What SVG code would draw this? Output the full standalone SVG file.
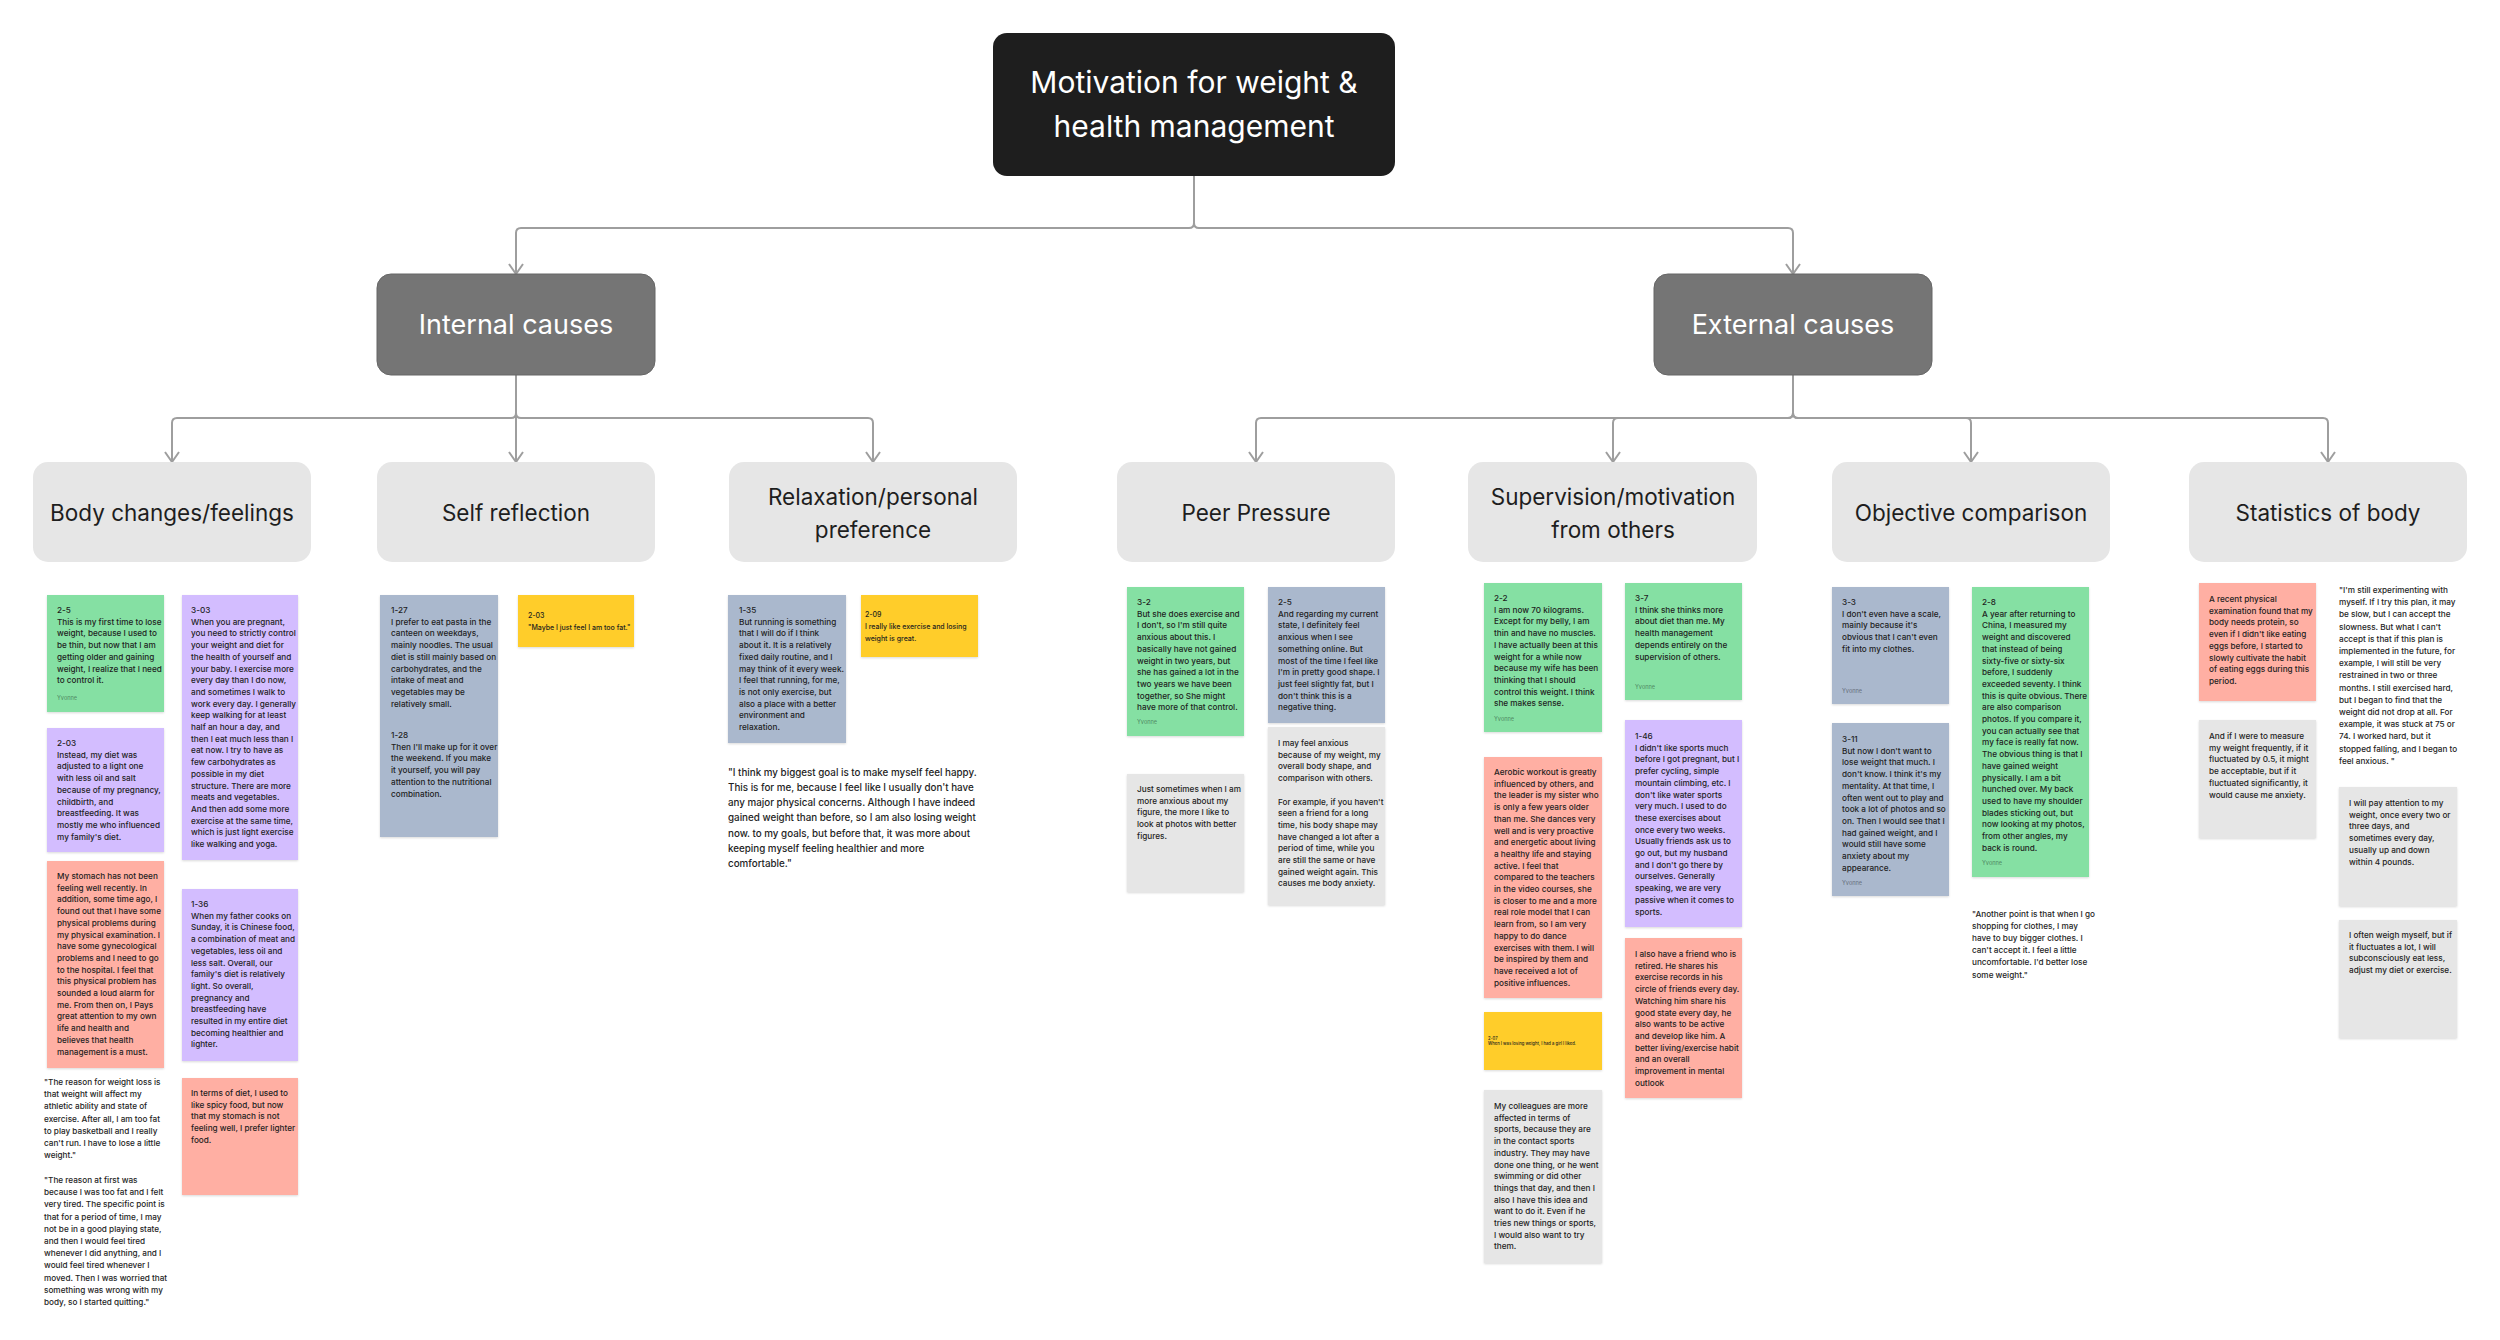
<svg xmlns="http://www.w3.org/2000/svg" width="2500" height="1340" viewBox="0 0 2500 1340">
<defs>
<style>
text{font-family:Inter,"Liberation Sans",sans-serif}
.root{fill:#1e1e1e}
.cat{fill:#757575;stroke:#666;stroke-width:1}
.sub{fill:#e6e6e6}
.tw{fill:#fff;font-size:30px;text-anchor:middle}
.tc{fill:#fff;font-size:27px;text-anchor:middle}
.ts{fill:#1e1e1e;font-size:22.5px;text-anchor:middle}
.con path{fill:none;stroke:#9e9e9e;stroke-width:2;marker-end:url(#ah)}
.note rect{filter:url(#sh)}
.g{fill:#85E0A3}.p{fill:#D3BDFF}.r{fill:#FFAFA3}.s{fill:#AAB8CD}.k{fill:#E6E6E6}.y{fill:#FFCD29}
.nt{font-size:8.2px;font-weight:500;fill:#1e1e1e}
.sm{font-size:7px;font-weight:500;fill:#1e1e1e}
.tiny{font-size:4.2px;font-weight:500;fill:#1e1e1e}
.qt{font-size:8.2px;font-weight:500;fill:#1e1e1e}
.qb{font-size:9.8px;font-weight:500;fill:#1e1e1e}
.yv{font-size:5.5px;font-weight:500;fill:#000;fill-opacity:0.4}
</style>
<filter id="sh" x="-10%" y="-10%" width="120%" height="130%"><feDropShadow dx="0" dy="1" stdDeviation="1.2" flood-color="#000" flood-opacity="0.15"/></filter>
<marker id="ah" viewBox="-1 -8 12 16" refX="10" refY="0" markerWidth="12" markerHeight="16" markerUnits="userSpaceOnUse" orient="auto"><path d="M0,-7 L10,0 L0,7" fill="none" stroke="#9e9e9e" stroke-width="2"/></marker>
</defs>
<rect width="2500" height="1340" fill="#fff"/>

<g id="connectors" class="con">
<path d="M1194,176 V223 Q1194,228 1189,228 H521 Q516,228 516,233 V274"/>
<path d="M1194,176 V223 Q1194,228 1199,228 H1788 Q1793,228 1793,233 V274"/>
<path d="M516,375 V413 Q516,418 511,418 H177 Q172,418 172,423 V462"/>
<path d="M516,375 V462"/>
<path d="M516,375 V413 Q516,418 521,418 H868 Q873,418 873,423 V462"/>
<path d="M1793,375 V413 Q1793,418 1788,418 H1261 Q1256,418 1256,423 V462"/>
<path d="M1793,375 V413 Q1793,418 1788,418 H1618 Q1613,418 1613,423 V462"/>
<path d="M1793,375 V413 Q1793,418 1798,418 H1966 Q1971,418 1971,423 V462"/>
<path d="M1793,375 V413 Q1793,418 1798,418 H2323 Q2328,418 2328,423 V462"/>
</g>

<g id="root"><rect class="root" x="993" y="33" width="402" height="143" rx="14"/>
<text class="tw" x="1194" y="93">Motivation for weight &amp;</text>
<text class="tw" x="1194" y="137">health management</text></g>

<g id="internal"><rect class="cat" x="377" y="274" width="278" height="101" rx="14"/><text class="tc" x="516" y="334">Internal causes</text></g>
<g id="external"><rect class="cat" x="1654" y="274" width="278" height="101" rx="14"/><text class="tc" x="1793" y="334">External causes</text></g>

<g id="body-changes"><rect class="sub" x="33" y="462" width="278" height="100" rx="15"/><text class="ts" x="172" y="521">Body changes/feelings</text></g>
<g id="self-reflection"><rect class="sub" x="377" y="462" width="278" height="100" rx="15"/><text class="ts" x="516" y="521">Self reflection</text></g>
<g id="relaxation"><rect class="sub" x="729" y="462" width="288" height="100" rx="15"/><text class="ts" x="873" y="505">Relaxation/personal</text><text class="ts" x="873" y="538">preference</text></g>
<g id="peer-pressure"><rect class="sub" x="1117" y="462" width="278" height="100" rx="15"/><text class="ts" x="1256" y="521">Peer Pressure</text></g>
<g id="supervision"><rect class="sub" x="1468" y="462" width="289" height="100" rx="15"/><text class="ts" x="1613" y="505">Supervision/motivation</text><text class="ts" x="1613" y="538">from others</text></g>
<g id="objective"><rect class="sub" x="1832" y="462" width="278" height="100" rx="15"/><text class="ts" x="1971" y="521">Objective comparison</text></g>
<g id="statistics"><rect class="sub" x="2189" y="462" width="278" height="100" rx="15"/><text class="ts" x="2328" y="521">Statistics of body</text></g>

<!-- Body changes column -->
<g id="n1" class="note"><rect class="g" x="47" y="595" width="117" height="117"/>
<text class="nt" x="57" y="613">2-5<tspan x="57" dy="11.7">This is my first time to lose</tspan><tspan x="57" dy="11.7">weight, because I used to</tspan><tspan x="57" dy="11.7">be thin, but now that I am</tspan><tspan x="57" dy="11.7">getting older and gaining</tspan><tspan x="57" dy="11.7">weight, I realize that I need</tspan><tspan x="57" dy="11.7">to control it.</tspan></text>
<text class="yv" x="57" y="700">Yvonne</text></g>

<g id="n2" class="note"><rect class="p" x="182" y="595" width="116" height="265"/>
<text class="nt" x="191" y="613">3-03<tspan x="191" dy="11.7">When you are pregnant,</tspan><tspan x="191" dy="11.7">you need to strictly control</tspan><tspan x="191" dy="11.7">your weight and diet for</tspan><tspan x="191" dy="11.7">the health of yourself and</tspan><tspan x="191" dy="11.7">your baby. I exercise more</tspan><tspan x="191" dy="11.7">every day than I do now,</tspan><tspan x="191" dy="11.7">and sometimes I walk to</tspan><tspan x="191" dy="11.7">work every day. I generally</tspan><tspan x="191" dy="11.7">keep walking for at least</tspan><tspan x="191" dy="11.7">half an hour a day, and</tspan><tspan x="191" dy="11.7">then I eat much less than I</tspan><tspan x="191" dy="11.7">eat now. I try to have as</tspan><tspan x="191" dy="11.7">few carbohydrates as</tspan><tspan x="191" dy="11.7">possible in my diet</tspan><tspan x="191" dy="11.7">structure. There are more</tspan><tspan x="191" dy="11.7">meats and vegetables.</tspan><tspan x="191" dy="11.7">And then add some more</tspan><tspan x="191" dy="11.7">exercise at the same time,</tspan><tspan x="191" dy="11.7">which is just light exercise</tspan><tspan x="191" dy="11.7">like walking and yoga.</tspan></text></g>

<g id="n3" class="note"><rect class="p" x="47" y="728" width="117" height="124"/>
<text class="nt" x="57" y="746">2-03<tspan x="57" dy="11.7">Instead, my diet was</tspan><tspan x="57" dy="11.7">adjusted to a light one</tspan><tspan x="57" dy="11.7">with less oil and salt</tspan><tspan x="57" dy="11.7">because of my pregnancy,</tspan><tspan x="57" dy="11.7">childbirth, and</tspan><tspan x="57" dy="11.7">breastfeeding. It was</tspan><tspan x="57" dy="11.7">mostly me who influenced</tspan><tspan x="57" dy="11.7">my family's diet.</tspan></text></g>

<g id="n4" class="note"><rect class="r" x="47" y="861" width="117" height="207"/>
<text class="nt" x="57" y="879">My stomach has not been<tspan x="57" dy="11.7">feeling well recently. In</tspan><tspan x="57" dy="11.7">addition, some time ago, I</tspan><tspan x="57" dy="11.7">found out that I have some</tspan><tspan x="57" dy="11.7">physical problems during</tspan><tspan x="57" dy="11.7">my physical examination. I</tspan><tspan x="57" dy="11.7">have some gynecological</tspan><tspan x="57" dy="11.7">problems and I need to go</tspan><tspan x="57" dy="11.7">to the hospital. I feel that</tspan><tspan x="57" dy="11.7">this physical problem has</tspan><tspan x="57" dy="11.7">sounded a loud alarm for</tspan><tspan x="57" dy="11.7">me. From then on, I Pays</tspan><tspan x="57" dy="11.7">great attention to my own</tspan><tspan x="57" dy="11.7">life and health and</tspan><tspan x="57" dy="11.7">believes that health</tspan><tspan x="57" dy="11.7">management is a must.</tspan></text></g>

<g id="n5" class="note"><rect class="p" x="182" y="889" width="116" height="172"/>
<text class="nt" x="191" y="907">1-36<tspan x="191" dy="11.7">When my father cooks on</tspan><tspan x="191" dy="11.7">Sunday, it is Chinese food,</tspan><tspan x="191" dy="11.7">a combination of meat and</tspan><tspan x="191" dy="11.7">vegetables, less oil and</tspan><tspan x="191" dy="11.7">less salt. Overall, our</tspan><tspan x="191" dy="11.7">family's diet is relatively</tspan><tspan x="191" dy="11.7">light. So overall,</tspan><tspan x="191" dy="11.7">pregnancy and</tspan><tspan x="191" dy="11.7">breastfeeding have</tspan><tspan x="191" dy="11.7">resulted in my entire diet</tspan><tspan x="191" dy="11.7">becoming healthier and</tspan><tspan x="191" dy="11.7">lighter.</tspan></text></g>

<g id="n6" class="note"><rect class="r" x="182" y="1078" width="116" height="117"/>
<text class="nt" x="191" y="1096">In terms of diet, I used to<tspan x="191" dy="11.7">like spicy food, but now</tspan><tspan x="191" dy="11.7">that my stomach is not</tspan><tspan x="191" dy="11.7">feeling well, I prefer lighter</tspan><tspan x="191" dy="11.7">food.</tspan></text></g>

<g id="q1"><text class="qt" x="44" y="1085">"The reason for weight loss is<tspan x="44" dy="12.2">that weight will affect my</tspan><tspan x="44" dy="12.2">athletic ability and state of</tspan><tspan x="44" dy="12.2">exercise. After all, I am too fat</tspan><tspan x="44" dy="12.2">to play basketball and I really</tspan><tspan x="44" dy="12.2">can't run. I have to lose a little</tspan><tspan x="44" dy="12.2">weight."</tspan></text></g>

<g id="q2"><text class="qt" x="44" y="1183">"The reason at first was<tspan x="44" dy="12.2">because I was too fat and I felt</tspan><tspan x="44" dy="12.2">very tired. The specific point is</tspan><tspan x="44" dy="12.2">that for a period of time, I may</tspan><tspan x="44" dy="12.2">not be in a good playing state,</tspan><tspan x="44" dy="12.2">and then I would feel tired</tspan><tspan x="44" dy="12.2">whenever I did anything, and I</tspan><tspan x="44" dy="12.2">would feel tired whenever I</tspan><tspan x="44" dy="12.2">moved. Then I was worried that</tspan><tspan x="44" dy="12.2">something was wrong with my</tspan><tspan x="44" dy="12.2">body, so I started quitting."</tspan></text></g>

<!-- Self reflection -->
<g id="n7" class="note"><rect class="s" x="380" y="595" width="118" height="242"/>
<text class="nt" x="391" y="613">1-27<tspan x="391" dy="11.7">I prefer to eat pasta in the</tspan><tspan x="391" dy="11.7">canteen on weekdays,</tspan><tspan x="391" dy="11.7">mainly noodles. The usual</tspan><tspan x="391" dy="11.7">diet is still mainly based on</tspan><tspan x="391" dy="11.7">carbohydrates, and the</tspan><tspan x="391" dy="11.7">intake of meat and</tspan><tspan x="391" dy="11.7">vegetables may be</tspan><tspan x="391" dy="11.7">relatively small.</tspan></text>
<text class="nt" x="391" y="738">1-28<tspan x="391" dy="11.7">Then I'll make up for it over</tspan><tspan x="391" dy="11.7">the weekend. If you make</tspan><tspan x="391" dy="11.7">it yourself, you will pay</tspan><tspan x="391" dy="11.7">attention to the nutritional</tspan><tspan x="391" dy="11.7">combination.</tspan></text></g>

<g id="n8" class="note"><rect class="y" x="518" y="595" width="116" height="52"/>
<text class="sm" x="528" y="617.5">2-03<tspan x="528" dy="12">"Maybe I just feel I am too fat."</tspan></text></g>

<!-- Relaxation -->
<g id="n9" class="note"><rect class="s" x="728" y="595" width="118" height="148"/>
<text class="nt" x="739" y="613">1-35<tspan x="739" dy="11.7">But running is something</tspan><tspan x="739" dy="11.7">that I will do if I think</tspan><tspan x="739" dy="11.7">about it. It is a relatively</tspan><tspan x="739" dy="11.7">fixed daily routine, and I</tspan><tspan x="739" dy="11.7">may think of it every week.</tspan><tspan x="739" dy="11.7">I feel that running, for me,</tspan><tspan x="739" dy="11.7">is not only exercise, but</tspan><tspan x="739" dy="11.7">also a place with a better</tspan><tspan x="739" dy="11.7">environment and</tspan><tspan x="739" dy="11.7">relaxation.</tspan></text></g>

<g id="n10" class="note"><rect class="y" x="861" y="595" width="117" height="62"/>
<text class="sm" x="865" y="616.5">2-09<tspan x="865" dy="12">I really like exercise and losing</tspan><tspan x="865" dy="12">weight is great.</tspan></text></g>

<g id="q3"><text class="qb" x="728" y="775.5">"I think my biggest goal is to make myself feel happy.<tspan x="728" dy="15.3">This is for me, because I feel like I usually don't have</tspan><tspan x="728" dy="15.3">any major physical concerns. Although I have indeed</tspan><tspan x="728" dy="15.3">gained weight than before, so I am also losing weight</tspan><tspan x="728" dy="15.3">now. to my goals, but before that, it was more about</tspan><tspan x="728" dy="15.3">keeping myself feeling healthier and more</tspan><tspan x="728" dy="15.3">comfortable."</tspan></text></g>

<!-- Peer pressure -->
<g id="n11" class="note"><rect class="g" x="1127" y="587" width="117" height="149"/>
<text class="nt" x="1137" y="605">3-2<tspan x="1137" dy="11.7">But she does exercise and</tspan><tspan x="1137" dy="11.7">I don't, so I'm still quite</tspan><tspan x="1137" dy="11.7">anxious about this. I</tspan><tspan x="1137" dy="11.7">basically have not gained</tspan><tspan x="1137" dy="11.7">weight in two years, but</tspan><tspan x="1137" dy="11.7">she has gained a lot in the</tspan><tspan x="1137" dy="11.7">two years we have been</tspan><tspan x="1137" dy="11.7">together, so She might</tspan><tspan x="1137" dy="11.7">have more of that control.</tspan></text>
<text class="yv" x="1137" y="724">Yvonne</text></g>

<g id="n12" class="note"><rect class="s" x="1268" y="587" width="117" height="136"/>
<text class="nt" x="1278" y="605">2-5<tspan x="1278" dy="11.7">And regarding my current</tspan><tspan x="1278" dy="11.7">state, I definitely feel</tspan><tspan x="1278" dy="11.7">anxious when I see</tspan><tspan x="1278" dy="11.7">something online. But</tspan><tspan x="1278" dy="11.7">most of the time I feel like</tspan><tspan x="1278" dy="11.7">I'm in pretty good shape. I</tspan><tspan x="1278" dy="11.7">just feel slightly fat, but I</tspan><tspan x="1278" dy="11.7">don't think this is a</tspan><tspan x="1278" dy="11.7">negative thing.</tspan></text></g>

<g id="n13" class="note"><rect class="k" x="1127" y="774" width="117" height="118"/>
<text class="nt" x="1137" y="792">Just sometimes when I am<tspan x="1137" dy="11.7">more anxious about my</tspan><tspan x="1137" dy="11.7">figure, the more I like to</tspan><tspan x="1137" dy="11.7">look at photos with better</tspan><tspan x="1137" dy="11.7">figures.</tspan></text></g>

<g id="n14" class="note"><rect class="k" x="1268" y="727" width="117" height="178"/>
<text class="nt" x="1278" y="746">I may feel anxious<tspan x="1278" dy="11.7">because of my weight, my</tspan><tspan x="1278" dy="11.7">overall body shape, and</tspan><tspan x="1278" dy="11.7">comparison with others.</tspan><tspan x="1278" dy="23.4">For example, if you haven't</tspan><tspan x="1278" dy="11.7">seen a friend for a long</tspan><tspan x="1278" dy="11.7">time, his body shape may</tspan><tspan x="1278" dy="11.7">have changed a lot after a</tspan><tspan x="1278" dy="11.7">period of time, while you</tspan><tspan x="1278" dy="11.7">are still the same or have</tspan><tspan x="1278" dy="11.7">gained weight again. This</tspan><tspan x="1278" dy="11.7">causes me body anxiety.</tspan></text></g>

<!-- Supervision -->
<g id="n15" class="note"><rect class="g" x="1484" y="583" width="118" height="149"/>
<text class="nt" x="1494" y="601">2-2<tspan x="1494" dy="11.7">I am now 70 kilograms.</tspan><tspan x="1494" dy="11.7">Except for my belly, I am</tspan><tspan x="1494" dy="11.7">thin and have no muscles.</tspan><tspan x="1494" dy="11.7">I have actually been at this</tspan><tspan x="1494" dy="11.7">weight for a while now</tspan><tspan x="1494" dy="11.7">because my wife has been</tspan><tspan x="1494" dy="11.7">thinking that I should</tspan><tspan x="1494" dy="11.7">control this weight. I think</tspan><tspan x="1494" dy="11.7">she makes sense.</tspan></text>
<text class="yv" x="1494" y="721">Yvonne</text></g>

<g id="n16" class="note"><rect class="g" x="1625" y="583" width="117" height="117"/>
<text class="nt" x="1635" y="601">3-7<tspan x="1635" dy="11.7">I think she thinks more</tspan><tspan x="1635" dy="11.7">about diet than me. My</tspan><tspan x="1635" dy="11.7">health management</tspan><tspan x="1635" dy="11.7">depends entirely on the</tspan><tspan x="1635" dy="11.7">supervision of others.</tspan></text>
<text class="yv" x="1635" y="689">Yvonne</text></g>

<g id="n17" class="note"><rect class="r" x="1484" y="757" width="118" height="241"/>
<text class="nt" x="1494" y="775">Aerobic workout is greatly<tspan x="1494" dy="11.7">influenced by others, and</tspan><tspan x="1494" dy="11.7">the leader is my sister who</tspan><tspan x="1494" dy="11.7">is only a few years older</tspan><tspan x="1494" dy="11.7">than me. She dances very</tspan><tspan x="1494" dy="11.7">well and is very proactive</tspan><tspan x="1494" dy="11.7">and energetic about living</tspan><tspan x="1494" dy="11.7">a healthy life and staying</tspan><tspan x="1494" dy="11.7">active. I feel that</tspan><tspan x="1494" dy="11.7">compared to the teachers</tspan><tspan x="1494" dy="11.7">in the video courses, she</tspan><tspan x="1494" dy="11.7">is closer to me and a more</tspan><tspan x="1494" dy="11.7">real role model that I can</tspan><tspan x="1494" dy="11.7">learn from, so I am very</tspan><tspan x="1494" dy="11.7">happy to do dance</tspan><tspan x="1494" dy="11.7">exercises with them. I will</tspan><tspan x="1494" dy="11.7">be inspired by them and</tspan><tspan x="1494" dy="11.7">have received a lot of</tspan><tspan x="1494" dy="11.7">positive influences.</tspan></text></g>

<g id="n18" class="note"><rect class="p" x="1625" y="720" width="117" height="207"/>
<text class="nt" x="1635" y="739">1-46<tspan x="1635" dy="11.7">I didn't like sports much</tspan><tspan x="1635" dy="11.7">before I got pregnant, but I</tspan><tspan x="1635" dy="11.7">prefer cycling, simple</tspan><tspan x="1635" dy="11.7">mountain climbing, etc. I</tspan><tspan x="1635" dy="11.7">don't like water sports</tspan><tspan x="1635" dy="11.7">very much. I used to do</tspan><tspan x="1635" dy="11.7">these exercises about</tspan><tspan x="1635" dy="11.7">once every two weeks.</tspan><tspan x="1635" dy="11.7">Usually friends ask us to</tspan><tspan x="1635" dy="11.7">go out, but my husband</tspan><tspan x="1635" dy="11.7">and I don't go there by</tspan><tspan x="1635" dy="11.7">ourselves. Generally</tspan><tspan x="1635" dy="11.7">speaking, we are very</tspan><tspan x="1635" dy="11.7">passive when it comes to</tspan><tspan x="1635" dy="11.7">sports.</tspan></text></g>

<g id="n19" class="note"><rect class="r" x="1625" y="938" width="117" height="160"/>
<text class="nt" x="1635" y="957">I also have a friend who is<tspan x="1635" dy="11.7">retired. He shares his</tspan><tspan x="1635" dy="11.7">exercise records in his</tspan><tspan x="1635" dy="11.7">circle of friends every day.</tspan><tspan x="1635" dy="11.7">Watching him share his</tspan><tspan x="1635" dy="11.7">good state every day, he</tspan><tspan x="1635" dy="11.7">also wants to be active</tspan><tspan x="1635" dy="11.7">and develop like him. A</tspan><tspan x="1635" dy="11.7">better living/exercise habit</tspan><tspan x="1635" dy="11.7">and an overall</tspan><tspan x="1635" dy="11.7">improvement in mental</tspan><tspan x="1635" dy="11.7">outlook</tspan></text></g>

<g id="n20" class="note"><rect class="y" x="1484" y="1012" width="118" height="58"/>
<text class="tiny" x="1488" y="1039.5">2-07<tspan x="1488" dy="5.6">When I was losing weight, I had a girl I liked.</tspan></text></g>

<g id="n21" class="note"><rect class="k" x="1484" y="1090" width="118" height="173"/>
<text class="nt" x="1494" y="1109">My colleagues are more<tspan x="1494" dy="11.7">affected in terms of</tspan><tspan x="1494" dy="11.7">sports, because they are</tspan><tspan x="1494" dy="11.7">in the contact sports</tspan><tspan x="1494" dy="11.7">industry. They may have</tspan><tspan x="1494" dy="11.7">done one thing, or he went</tspan><tspan x="1494" dy="11.7">swimming or did other</tspan><tspan x="1494" dy="11.7">things that day, and then I</tspan><tspan x="1494" dy="11.7">also I have this idea and</tspan><tspan x="1494" dy="11.7">want to do it. Even if he</tspan><tspan x="1494" dy="11.7">tries new things or sports,</tspan><tspan x="1494" dy="11.7">I would also want to try</tspan><tspan x="1494" dy="11.7">them.</tspan></text></g>

<!-- Objective comparison -->
<g id="n22" class="note"><rect class="s" x="1832" y="587" width="117" height="117"/>
<text class="nt" x="1842" y="605">3-3<tspan x="1842" dy="11.7">I don't even have a scale,</tspan><tspan x="1842" dy="11.7">mainly because it's</tspan><tspan x="1842" dy="11.7">obvious that I can't even</tspan><tspan x="1842" dy="11.7">fit into my clothes.</tspan></text>
<text class="yv" x="1842" y="693">Yvonne</text></g>

<g id="n23" class="note"><rect class="s" x="1832" y="723" width="117" height="173"/>
<text class="nt" x="1842" y="742">3-11<tspan x="1842" dy="11.7">But now I don't want to</tspan><tspan x="1842" dy="11.7">lose weight that much. I</tspan><tspan x="1842" dy="11.7">don't know. I think it's my</tspan><tspan x="1842" dy="11.7">mentality. At that time, I</tspan><tspan x="1842" dy="11.7">often went out to play and</tspan><tspan x="1842" dy="11.7">took a lot of photos and so</tspan><tspan x="1842" dy="11.7">on. Then I would see that I</tspan><tspan x="1842" dy="11.7">had gained weight, and I</tspan><tspan x="1842" dy="11.7">would still have some</tspan><tspan x="1842" dy="11.7">anxiety about my</tspan><tspan x="1842" dy="11.7">appearance.</tspan></text>
<text class="yv" x="1842" y="885">Yvonne</text></g>

<g id="n24" class="note"><rect class="g" x="1972" y="587" width="117" height="290"/>
<text class="nt" x="1982" y="605">2-8<tspan x="1982" dy="11.7">A year after returning to</tspan><tspan x="1982" dy="11.7">China, I measured my</tspan><tspan x="1982" dy="11.7">weight and discovered</tspan><tspan x="1982" dy="11.7">that instead of being</tspan><tspan x="1982" dy="11.7">sixty-five or sixty-six</tspan><tspan x="1982" dy="11.7">before, I suddenly</tspan><tspan x="1982" dy="11.7">exceeded seventy. I think</tspan><tspan x="1982" dy="11.7">this is quite obvious. There</tspan><tspan x="1982" dy="11.7">are also comparison</tspan><tspan x="1982" dy="11.7">photos. If you compare it,</tspan><tspan x="1982" dy="11.7">you can actually see that</tspan><tspan x="1982" dy="11.7">my face is really fat now.</tspan><tspan x="1982" dy="11.7">The obvious thing is that I</tspan><tspan x="1982" dy="11.7">have gained weight</tspan><tspan x="1982" dy="11.7">physically. I am a bit</tspan><tspan x="1982" dy="11.7">hunched over. My back</tspan><tspan x="1982" dy="11.7">used to have my shoulder</tspan><tspan x="1982" dy="11.7">blades sticking out, but</tspan><tspan x="1982" dy="11.7">now looking at my photos,</tspan><tspan x="1982" dy="11.7">from other angles, my</tspan><tspan x="1982" dy="11.7">back is round.</tspan></text>
<text class="yv" x="1982" y="865">Yvonne</text></g>

<g id="q4"><text class="qt" x="1972" y="917">"Another point is that when I go<tspan x="1972" dy="12.1">shopping for clothes, I may</tspan><tspan x="1972" dy="12.1">have to buy bigger clothes. I</tspan><tspan x="1972" dy="12.1">can't accept it. I feel a little</tspan><tspan x="1972" dy="12.1">uncomfortable. I'd better lose</tspan><tspan x="1972" dy="12.1">some weight."</tspan></text></g>

<!-- Statistics -->
<g id="n25" class="note"><rect class="r" x="2199" y="583" width="117" height="118"/>
<text class="nt" x="2209" y="602">A recent physical<tspan x="2209" dy="11.7">examination found that my</tspan><tspan x="2209" dy="11.7">body needs protein, so</tspan><tspan x="2209" dy="11.7">even if I didn't like eating</tspan><tspan x="2209" dy="11.7">eggs before, I started to</tspan><tspan x="2209" dy="11.7">slowly cultivate the habit</tspan><tspan x="2209" dy="11.7">of eating eggs during this</tspan><tspan x="2209" dy="11.7">period.</tspan></text></g>

<g id="n26" class="note"><rect class="k" x="2199" y="720" width="117" height="118"/>
<text class="nt" x="2209" y="739">And if I were to measure<tspan x="2209" dy="11.7">my weight frequently, if it</tspan><tspan x="2209" dy="11.7">fluctuated by 0.5, it might</tspan><tspan x="2209" dy="11.7">be acceptable, but if it</tspan><tspan x="2209" dy="11.7">fluctuated significantly, it</tspan><tspan x="2209" dy="11.7">would cause me anxiety.</tspan></text></g>

<g id="q5"><text class="qt" x="2339" y="593">"I'm still experimenting with<tspan x="2339" dy="12.2">myself. If I try this plan, it may</tspan><tspan x="2339" dy="12.2">be slow, but I can accept the</tspan><tspan x="2339" dy="12.2">slowness. But what I can't</tspan><tspan x="2339" dy="12.2">accept is that if this plan is</tspan><tspan x="2339" dy="12.2">implemented in the future, for</tspan><tspan x="2339" dy="12.2">example, I will still be very</tspan><tspan x="2339" dy="12.2">restrained in two or three</tspan><tspan x="2339" dy="12.2">months. I still exercised hard,</tspan><tspan x="2339" dy="12.2">but I began to find that the</tspan><tspan x="2339" dy="12.2">weight did not drop at all. For</tspan><tspan x="2339" dy="12.2">example, it was stuck at 75 or</tspan><tspan x="2339" dy="12.2">74. I worked hard, but it</tspan><tspan x="2339" dy="12.2">stopped falling, and I began to</tspan><tspan x="2339" dy="12.2">feel anxious. "</tspan></text></g>

<g id="n27" class="note"><rect class="k" x="2339" y="787" width="118" height="119"/>
<text class="nt" x="2349" y="806">I will pay attention to my<tspan x="2349" dy="11.7">weight, once every two or</tspan><tspan x="2349" dy="11.7">three days, and</tspan><tspan x="2349" dy="11.7">sometimes every day,</tspan><tspan x="2349" dy="11.7">usually up and down</tspan><tspan x="2349" dy="11.7">within 4 pounds.</tspan></text></g>

<g id="n28" class="note"><rect class="k" x="2339" y="920" width="118" height="118"/>
<text class="nt" x="2349" y="938">I often weigh myself, but if<tspan x="2349" dy="11.7">it fluctuates a lot, I will</tspan><tspan x="2349" dy="11.7">subconsciously eat less,</tspan><tspan x="2349" dy="11.7">adjust my diet or exercise.</tspan></text></g>
</svg>
